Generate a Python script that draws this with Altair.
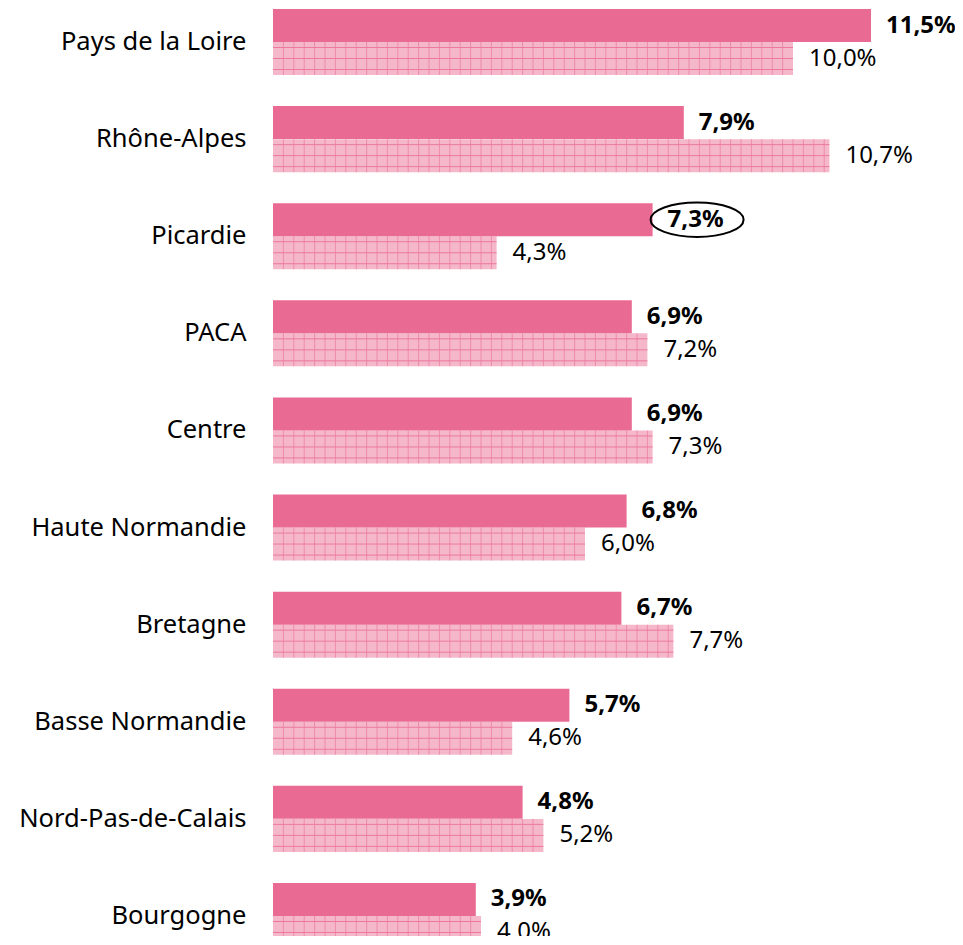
import altair as alt
import pandas as pd

regions = ["Pays de la Loire", "Rhône-Alpes", "Picardie", "PACA", "Centre",
           "Haute Normandie", "Bretagne", "Basse Normandie", "Nord-Pas-de-Calais", "Bourgogne"]
current = [11.5, 7.9, 7.3, 6.9, 6.9, 6.8, 6.7, 5.7, 4.8, 3.9]
previous = [10.0, 10.7, 4.3, 7.2, 7.3, 6.0, 7.7, 4.6, 5.2, 4.0]
highlight = ["Picardie"]

SOLID = "#E96A93"
LIGHT = "#F5B8CB"
GRID = "#EC78A0"
FONT = "Noto Sans"
SUBS = ["s0", "s1", "s2", "s3", "s4", "s5"]
GRID_STEP = 0.2


def fmt(v):
    return f"{v:.1f}".replace(".", ",") + "%"


rows = []
for r, c, p in zip(regions, current, previous):
    rows.append(dict(region=r, series="cur", value=c, label=fmt(c), sub="s1",
                     hl=r in highlight))
    rows.append(dict(region=r, series="prev", value=p, label=fmt(p), sub="s4",
                     hl=False))
df = pd.DataFrame(rows)

hrows = []
for r, p in zip(regions, previous):
    for s in ["s3", "s4", "s5"]:
        hrows.append(dict(region=r, sub=s, x0=0.0, value=p))
hdf = pd.DataFrame(hrows)

vrows = []
for r, p in zip(regions, previous):
    k = 1
    while k * GRID_STEP < p - 1e-9:
        vrows.append(dict(region=r, sub="s4", gx=round(k * GRID_STEP, 3)))
        k += 1
vdf = pd.DataFrame(vrows)

y = alt.Y("region:N", sort=regions,
          scale=alt.Scale(domain=regions, paddingInner=0.32, paddingOuter=0, range=[0, 940]),
          axis=alt.Axis(title=None, domain=False, ticks=False, labelFontSize=25.5,
                        labelFont=FONT, labelColor="#000000", labelPadding=27, labelLimit=0))
yoff = alt.YOffset("sub:N", scale=alt.Scale(domain=SUBS, paddingInner=0, paddingOuter=0))
xscale = alt.Scale(domain=[0, 660 / 52])

base = alt.Chart(df)

bars_prev = base.transform_filter(alt.datum.series == "prev").mark_bar(
    size=33, color=LIGHT).encode(
    x=alt.X("value:Q", scale=xscale, axis=None), y=y, yOffset=yoff)

vlines = alt.Chart(vdf).mark_tick(color=GRID, thickness=1, size=33, orient="vertical").encode(
    x=alt.X("gx:Q", scale=xscale, axis=None), y=y, yOffset=yoff)

hlines = alt.Chart(hdf).mark_rule(color=GRID, strokeWidth=1).encode(
    x=alt.X("x0:Q", scale=xscale, axis=None), x2="value:Q", y=y, yOffset=yoff)

bars_cur = base.transform_filter(alt.datum.series == "cur").mark_bar(
    size=33, color=SOLID).encode(
    x=alt.X("value:Q", scale=xscale, axis=None), y=y, yOffset=yoff)

text_cur = base.transform_filter(alt.datum.series == "cur").mark_text(
    align="left", baseline="middle", dx=15, fontSize=24, fontWeight="bold",
    font=FONT, color="#000000").encode(
    x=alt.X("value:Q", scale=xscale, axis=None), y=y, yOffset=yoff, text="label:N")

text_prev = base.transform_filter(alt.datum.series == "prev").mark_text(
    align="left", baseline="middle", dx=16, fontSize=24, fontWeight="normal",
    font=FONT, color="#000000").encode(
    x=alt.X("value:Q", scale=xscale, axis=None), y=y, yOffset=yoff, text="label:N")

ellipse = base.transform_filter(alt.datum.hl == True).mark_point(
    shape="M-1,0 A1,0.37 0 1,1 1,0 A1,0.37 0 1,1 -1,0 Z", size=8649, filled=False,
    stroke="#000000", strokeWidth=2, opacity=1, xOffset=44.5).encode(
    x=alt.X("value:Q", scale=xscale, axis=None), y=y, yOffset=yoff)

chart = alt.layer(bars_prev, vlines, hlines, bars_cur, text_cur, text_prev, ellipse).properties(
    width=660, height=927,
    autosize=alt.AutoSizeParams(type="none"),
    padding={"left": 265, "top": 1, "right": 22, "bottom": 0},
).configure_view(stroke=None)

chart.save("out.html", embed_options={"renderer": "svg", "actions": False})
